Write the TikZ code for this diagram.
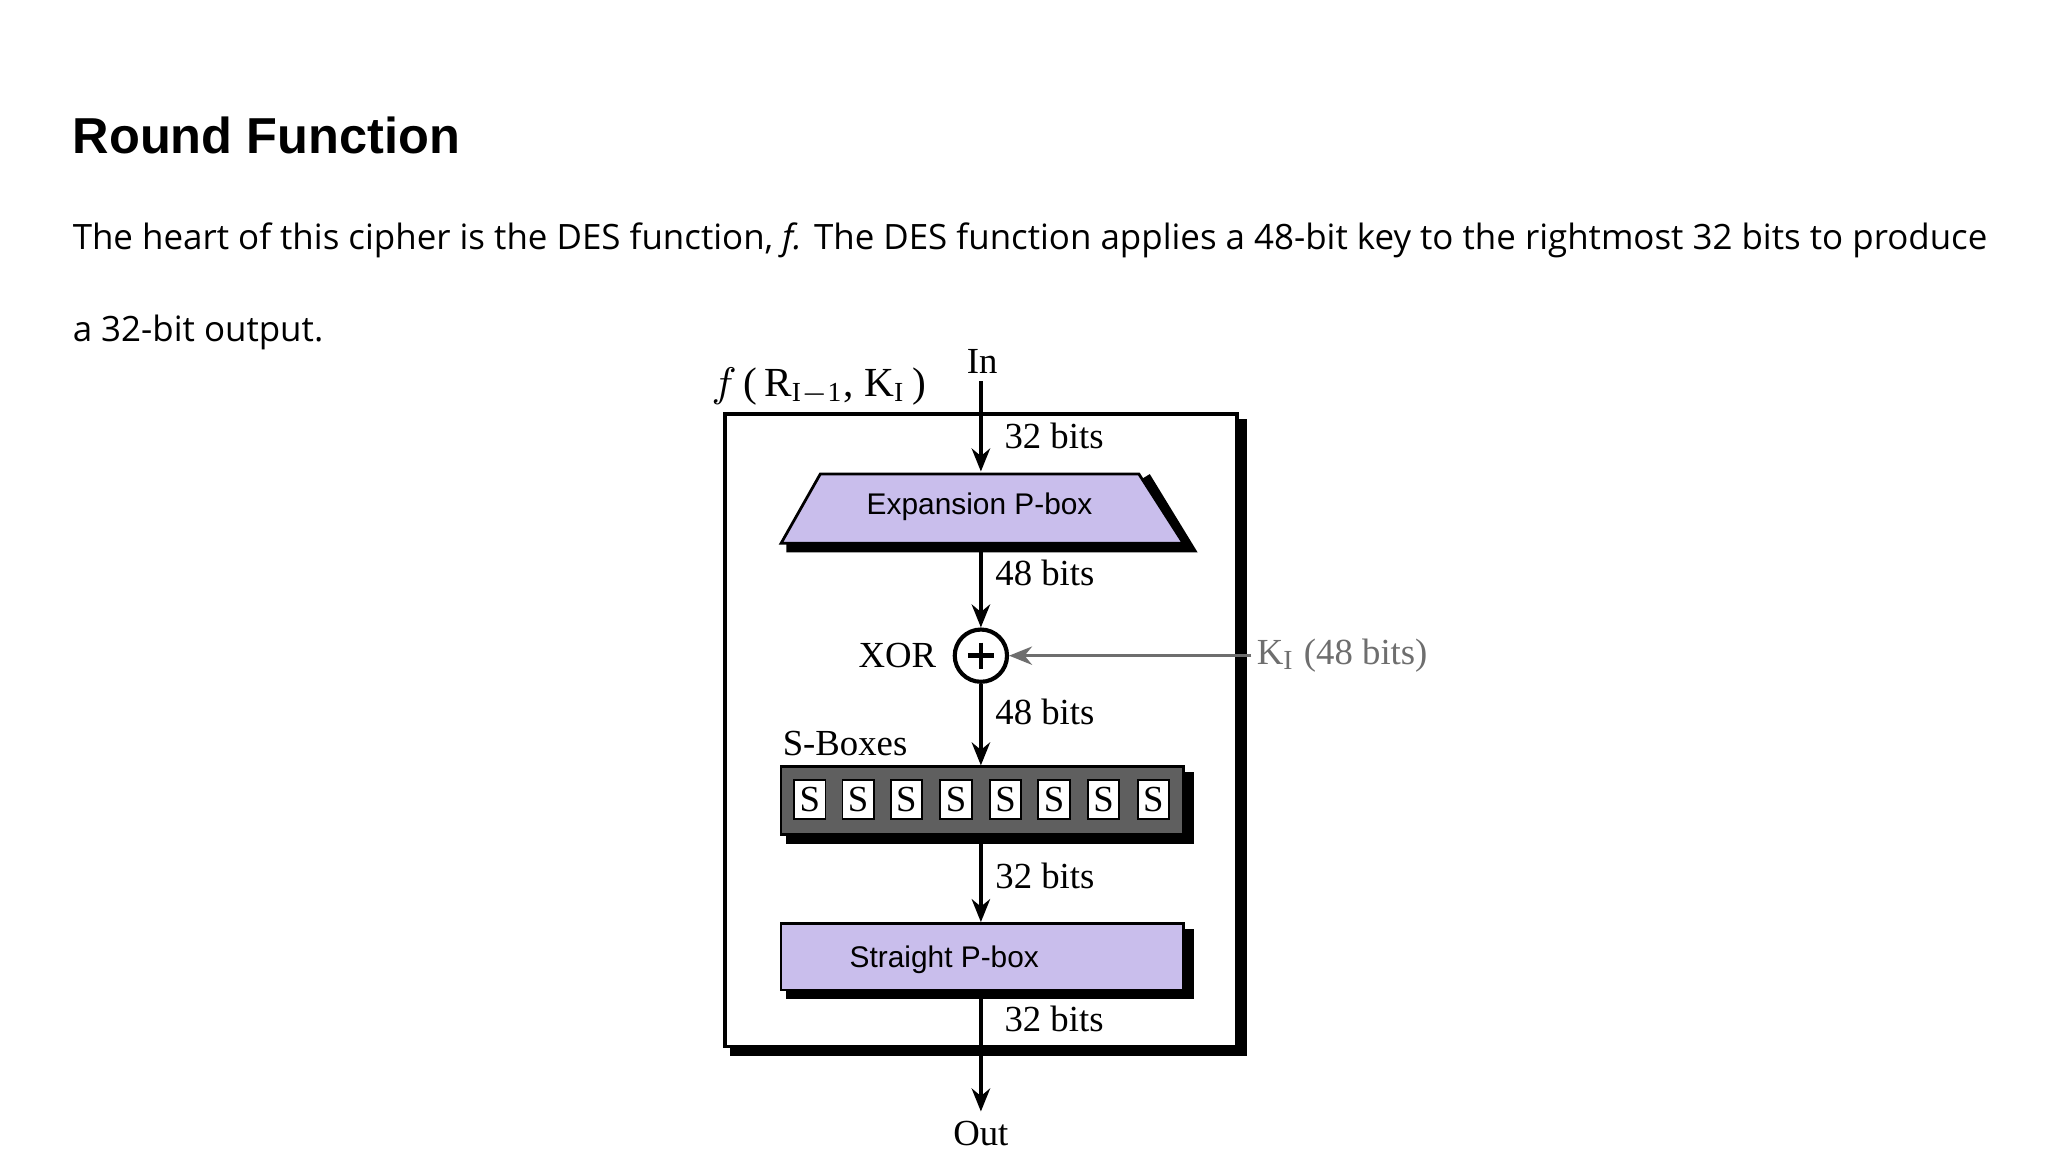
\documentclass[tikz,border=0pt]{standalone}
\usepackage{fontspec}
\setmainfont{Liberation Serif}
\newfontfamily\bodyfont{Open Sans}
\newfontfamily\headfont{Liberation Sans}
\usetikzlibrary{arrows.meta}
\definecolor{lav}{RGB}{201,190,236}
\definecolor{sgray}{RGB}{95,95,95}
\definecolor{kgray}{RGB}{110,110,110}
\begin{document}
\begin{tikzpicture}[x=0.01cm,y=-0.01cm,
  lbl/.style={font=\fontsize{8}{9}\selectfont, inner sep=1pt},
  flow/.style={-{Stealth[length=5pt,width=4pt]}, line width=0.8pt},
  pbox/.style={draw, fill=lav, line width=0.6pt},
  shadow/.style={line width=2.2pt},
  sb/.style={draw, fill=white, minimum width=0.24cm, minimum height=0.3cm, inner sep=0pt,
    font=\fontsize{8}{9}\selectfont}]
\useasboundingbox (0,0) rectangle (1568,882);
% heading and text
\node[anchor=west, font=\headfont\bfseries\fontsize{11}{13}\selectfont, inner sep=0] (title) at (55,104) {Round Function};
\node[anchor=north west, inner sep=0, text width=14.65cm, align=justify,
  font=\bodyfont\fontsize{7.6}{20}\selectfont] (body) at (55,170)
  {The heart of this cipher is the DES function, \textit{f.} The DES function applies a 48-bit key to the rightmost 32 bits to produce a 32-bit output.};
% outer frame
\draw[shadow] (559,805) -- (951,805) -- (951,321);
\draw[line width=0.7pt, fill=white] (555,317) rectangle (947,801);
\node[lbl, font=\fontsize{9}{10}\selectfont] (fname) at (627,296) {$f$\,(\,R$_{\mathrm{I-1}}$, K$_{\mathrm{I}}$\,)};
% In
\coordinate (in) at (751,292);
\node[lbl] (inl) at (752,277) {In};
% expansion P-box
\draw[shadow] (602,419) -- (910,419) -- (877,365);
\draw[pbox] (628,363) -- (872,363) -- (906,416) -- (598,416) -- cycle;
\node[font=\headfont\fontsize{6.5}{8}\selectfont] (exp) at (750,388) {Expansion P-box};
\coordinate (expt) at (751,361);
\coordinate (expb) at (751,417);
\draw[flow] (in) -- (expt);
\node[lbl] at (807,334) {32 bits};
% XOR
\node[draw, circle, line width=0.9pt, minimum size=0.4cm, inner sep=0pt] (xor) at (751,502) {};
\draw[line width=1pt] (741,502) -- (761,502) (751,492) -- (751,512);
\node[lbl] at (687,502) {XOR};
\draw[flow] (expb) -- (xor);
\node[lbl] at (800,439) {48 bits};
\coordinate (kin) at (958,502);
\node[lbl, text=kgray, anchor=west] (key) at (958,502) {K$_{\mathrm{I}}$ (48 bits)};
\draw[flow, kgray, line width=0.6pt] (key.west) -- (xor);
% S-boxes
\draw[shadow] (602,642) -- (910,642) -- (910,591);
\draw[fill=sgray, line width=0.6pt] (598,587) rectangle (906,639);
\foreach \x [count=\i] in {620,657,694,732,770,807,845,883}
  \node[sb] (s\i) at (\x,612) {S};
\node[lbl] at (647,569) {S-Boxes};
\coordinate (sbt) at (751,586);
\coordinate (sbb) at (751,640);
\draw[flow] (xor) -- (sbt);
\node[lbl] at (800,545) {48 bits};
% straight P-box
\draw[shadow] (602,761) -- (910,761) -- (910,711);
\draw[pbox] (598,707) rectangle (906,758);
\node[font=\headfont\fontsize{6.5}{8}\selectfont] (str) at (723,735) {Straight P-box};
\coordinate (stt) at (751,706);
\coordinate (stb) at (751,758);
\draw[flow] (sbb) -- (stt);
\node[lbl] at (800,671) {32 bits};
% out
\coordinate (out) at (751,851);
\draw[flow] (stb) -- (out);
\node[lbl] at (807,780) {32 bits};
\node[lbl] (outl) at (751,868) {Out};
\end{tikzpicture}
\end{document}
